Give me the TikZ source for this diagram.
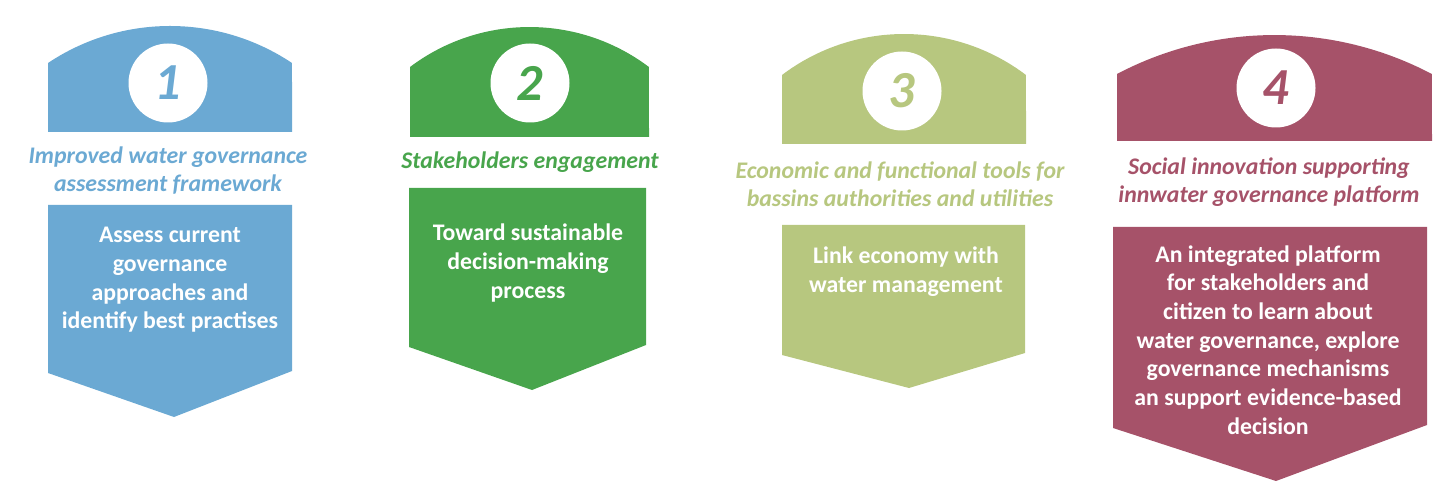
\documentclass[tikz,border=0pt]{standalone}
\usepackage{fontspec}
\setmainfont{Carlito}
\definecolor{cblue}{HTML}{6BA9D3}
\definecolor{cgreen}{HTML}{48A54C}
\definecolor{colive}{HTML}{B7C77F}
\definecolor{cmaroon}{HTML}{A65269}
\tikzset{
  head/.style={font=\fontsize{23.8}{28}\selectfont\bfseries\itshape, align=center, inner sep=0pt},
  body/.style={font=\fontsize{23.8}{28.7}\selectfont\bfseries, text=white, align=center, inner sep=0pt},
  numcirc/.style={circle, fill=white, minimum size=79pt, inner sep=0pt, font=\fontsize{52}{52}\selectfont\bfseries\itshape},
}
\begin{document}
\begin{tikzpicture}[x=1pt,y=-1pt]
\useasboundingbox (0,0) rectangle (1450,502);
% column 1
\fill[cblue] (48,132) -- (48,63) arc[start angle=236.25, end angle=303.75, radius=219.6] -- (292,132) -- cycle;
\fill[cblue] (48,205) -- (292,205) -- (292,371) -- (174,417) -- (48,373) -- cycle;
\node[numcirc, text=cblue] (n1) at (168,83) {1};
\node[head, text=cblue] (h1) at (168,171) {Improved water governance\\assessment framework};
\node[body] (b1) at (170,280) {Assess current\\governance\\approaches and\\identify best practises};
% column 2
\fill[cgreen] (410,137) -- (410,67) arc[start angle=233, end angle=307, radius=198.5] -- (649,137) -- cycle;
\fill[cgreen] (409,188) -- (646,188) -- (646,345) -- (532,390) -- (409,347) -- cycle;
\node[numcirc, text=cgreen] (n2) at (530,83) {2};
\node[head, text=cgreen] (h2) at (530,162) {Stakeholders engagement};
\node[body] (b2) at (528,263) {Toward sustainable\\decision-making\\process};
% column 3
\fill[colive] (782,144) -- (782,75) arc[start angle=232.85, end angle=307.15, radius=202] -- (1026,144) -- cycle;
\fill[colive] (782,225) -- (1025,225) -- (1025,353) -- (909,388) -- (782,355) -- cycle;
\node[numcirc, text=colive] (n3) at (902,91) {3};
\node[head, text=colive] (h3) at (900,184) {Economic and functional tools for\\bassins authorities and utilities};
\node[body] (b3) at (906,272) {Link economy with\\water management};
% column 4
\fill[cmaroon] (1117,141) -- (1117,74) arc[start angle=242.2, end angle=297.8, radius=337.5] -- (1432,141) -- cycle;
\fill[cmaroon] (1113,227) -- (1427,227) -- (1427,425) -- (1276,481) -- (1113,428) -- cycle;
\node[numcirc, text=cmaroon] (n4) at (1276,88) {4};
\node[head, text=cmaroon] (h4) at (1269,182) {Social innovation supporting\\innwater governance platform};
\node[body] (b4) at (1268,340) {An integrated platform\\for stakeholders and\\citizen to learn about\\water governance, explore\\governance mechanisms\\an support evidence-based\\decision};
\end{tikzpicture}
\end{document}
